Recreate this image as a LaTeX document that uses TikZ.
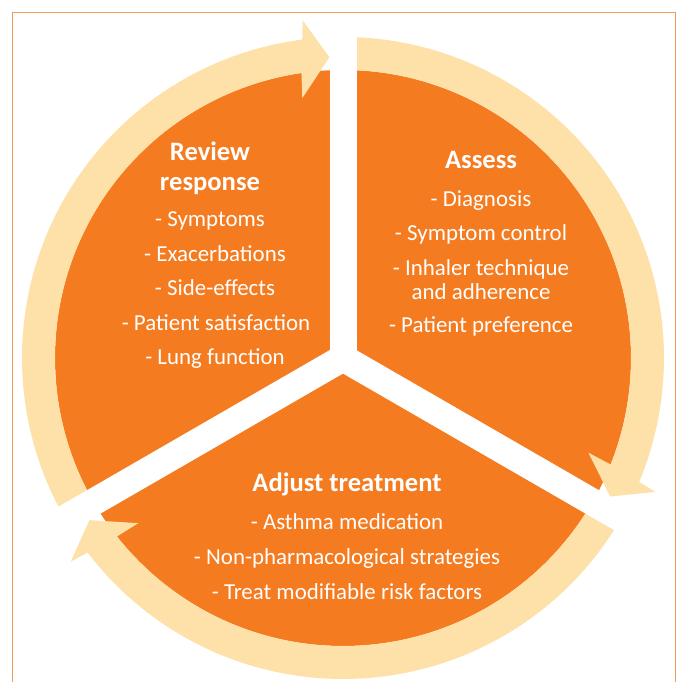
\documentclass[tikz,border=0pt]{standalone}
\usepackage{fontspec}
\setmainfont{Carlito}
\definecolor{orng}{HTML}{F47B20}
\definecolor{ringc}{HTML}{FEE0A9}
\definecolor{framec}{HTML}{F29A5C}
\begin{document}
\begin{tikzpicture}[x=1pt,y=1pt,
  body/.style={text=white, font=\fontsize{22.9}{24}\selectfont, anchor=mid, inner sep=0pt},
  head/.style={text=white, font=\fontsize{26.6}{28}\selectfont\bfseries, anchor=mid, inner sep=0pt}]
\useasboundingbox (0,0) rectangle (682,682);
\draw[framec, line width=1pt] (12.5,0) -- (12.5,669) -- (675.5,669) -- (675.5,0);
\begin{scope}[shift={(343,324)}]
  \fill[orng] (0,0) circle[radius=288];
  \foreach \s/\g in {210/90, 90/-30, -30/-150}{
    \fill[ringc] (\s:321) arc[start angle=\s, end angle=\g+7.3, radius=321]
      -- ({\g+6.8}:340) -- ({\g+2.6}:301) -- ({\g+8.9}:263)
      -- ({\g+8.3}:288) arc[start angle=\g+8.3, end angle=\s, radius=288] -- cycle;
  }
  \foreach \a in {90,210,330}
    \draw[white, line width=27pt] (0,0) -- (\a:336);
\end{scope}
% Review response
\node[head] (r0) at (210,524) {Review};
\node[head] (r1) at (210,494) {response};
\node[body] (r2) at (210,458) {- Symptoms};
\node[body] (r3) at (215,423) {- Exacerbations};
\node[body] (r4) at (215,389) {- Side-effects};
\node[body] (r5) at (216,354) {- Patient satisfaction};
\node[body] (r6) at (215,320) {- Lung function};
% Assess
\node[head] (a0) at (481,516) {Assess};
\node[body] (a1) at (481,478) {- Diagnosis};
\node[body] (a2) at (481,444) {- Symptom control};
\node[body] (a3) at (481,409) {- Inhaler technique};
\node[body] (a4) at (481,385) {and adherence};
\node[body] (a5) at (481,352) {- Patient preference};
% Adjust treatment
\node[head] (t0) at (347,193) {Adjust treatment};
\node[body] (t1) at (347,155) {- Asthma medication};
\node[body] (t2) at (347,120) {- Non-pharmacological strategies};
\node[body] (t3) at (347,85) {- Treat modifiable risk factors};
\end{tikzpicture}
\end{document}
